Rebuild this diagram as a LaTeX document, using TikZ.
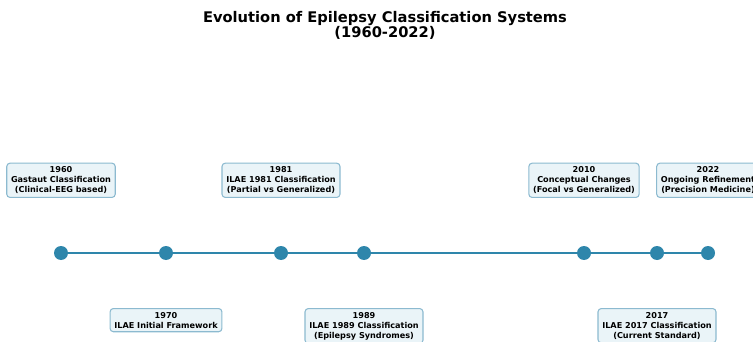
\documentclass[tikz,border=0pt]{standalone}
\usepackage{fontspec}
\setmainfont{DejaVu Sans}
\usepackage{xcolor}
\definecolor{lineblue}{RGB}{46,134,171}
\definecolor{boxfill}{RGB}{234,244,248}
\definecolor{boxedge}{RGB}{140,186,208}
\usepackage{tikz}
\tikzset{
    milestone/.style={draw=boxedge, fill=boxfill, line width=0.8pt, rounded corners=2.5pt,
        align=center, font=\fontsize{6.1}{7.6}\selectfont\bfseries, inner xsep=3.2pt, inner ysep=2.6pt},
    above-box/.style={milestone, anchor=south},
    below-box/.style={milestone, anchor=north},
    dot/.style={circle, fill=lineblue, minimum size=10.5pt, inner sep=0pt},
    timeline/.style={lineblue, line width=2.2pt}
}

\begin{document}
\begin{tikzpicture}[x=0.75pt, y=-0.75pt]
      \useasboundingbox (0,0) rectangle (753,342);

      \node[font=\fontsize{11}{11.25}\selectfont\bfseries, align=center] (title) at (385,25.5)
          {Evolution of Epilepsy Classification Systems\\(1960-2022)};

      % dots on the time axis
      \node[dot] (d1960) at (61,253) {};
      \node[dot] (d1970) at (166,253) {};
      \node[dot] (d1981) at (281,253) {};
      \node[dot] (d1989) at (364,253) {};
      \node[dot] (d2010) at (584,253) {};
      \node[dot] (d2017) at (657,253) {};
      \node[dot] (d2022) at (708,253) {};

      \draw[timeline] (d1960) -- (d1970) -- (d1981) -- (d1989) -- (d2010) -- (d2017) -- (d2022);

      % labels above
      \node[above-box] (e1960) at (61,198) {1960\\Gastaut Classification\\(Clinical-EEG based)};
      \node[above-box] (e1981) at (281,198) {1981\\ILAE 1981 Classification\\(Partial vs Generalized)};
      \node[above-box] (e2010) at (584,198) {2010\\Conceptual Changes\\(Focal vs Generalized)};
      \node[above-box] (e2022) at (708,198) {2022\\Ongoing Refinement\\(Precision Medicine)};

      % labels below
      \node[below-box] (e1970) at (166,308) {1970\\ILAE Initial Framework};
      \node[below-box] (e1989) at (364,308) {1989\\ILAE 1989 Classification\\(Epilepsy Syndromes)};
      \node[below-box] (e2017) at (657,308) {2017\\ILAE 2017 Classification\\(Current Standard)};
  \end{tikzpicture}
\end{document}
